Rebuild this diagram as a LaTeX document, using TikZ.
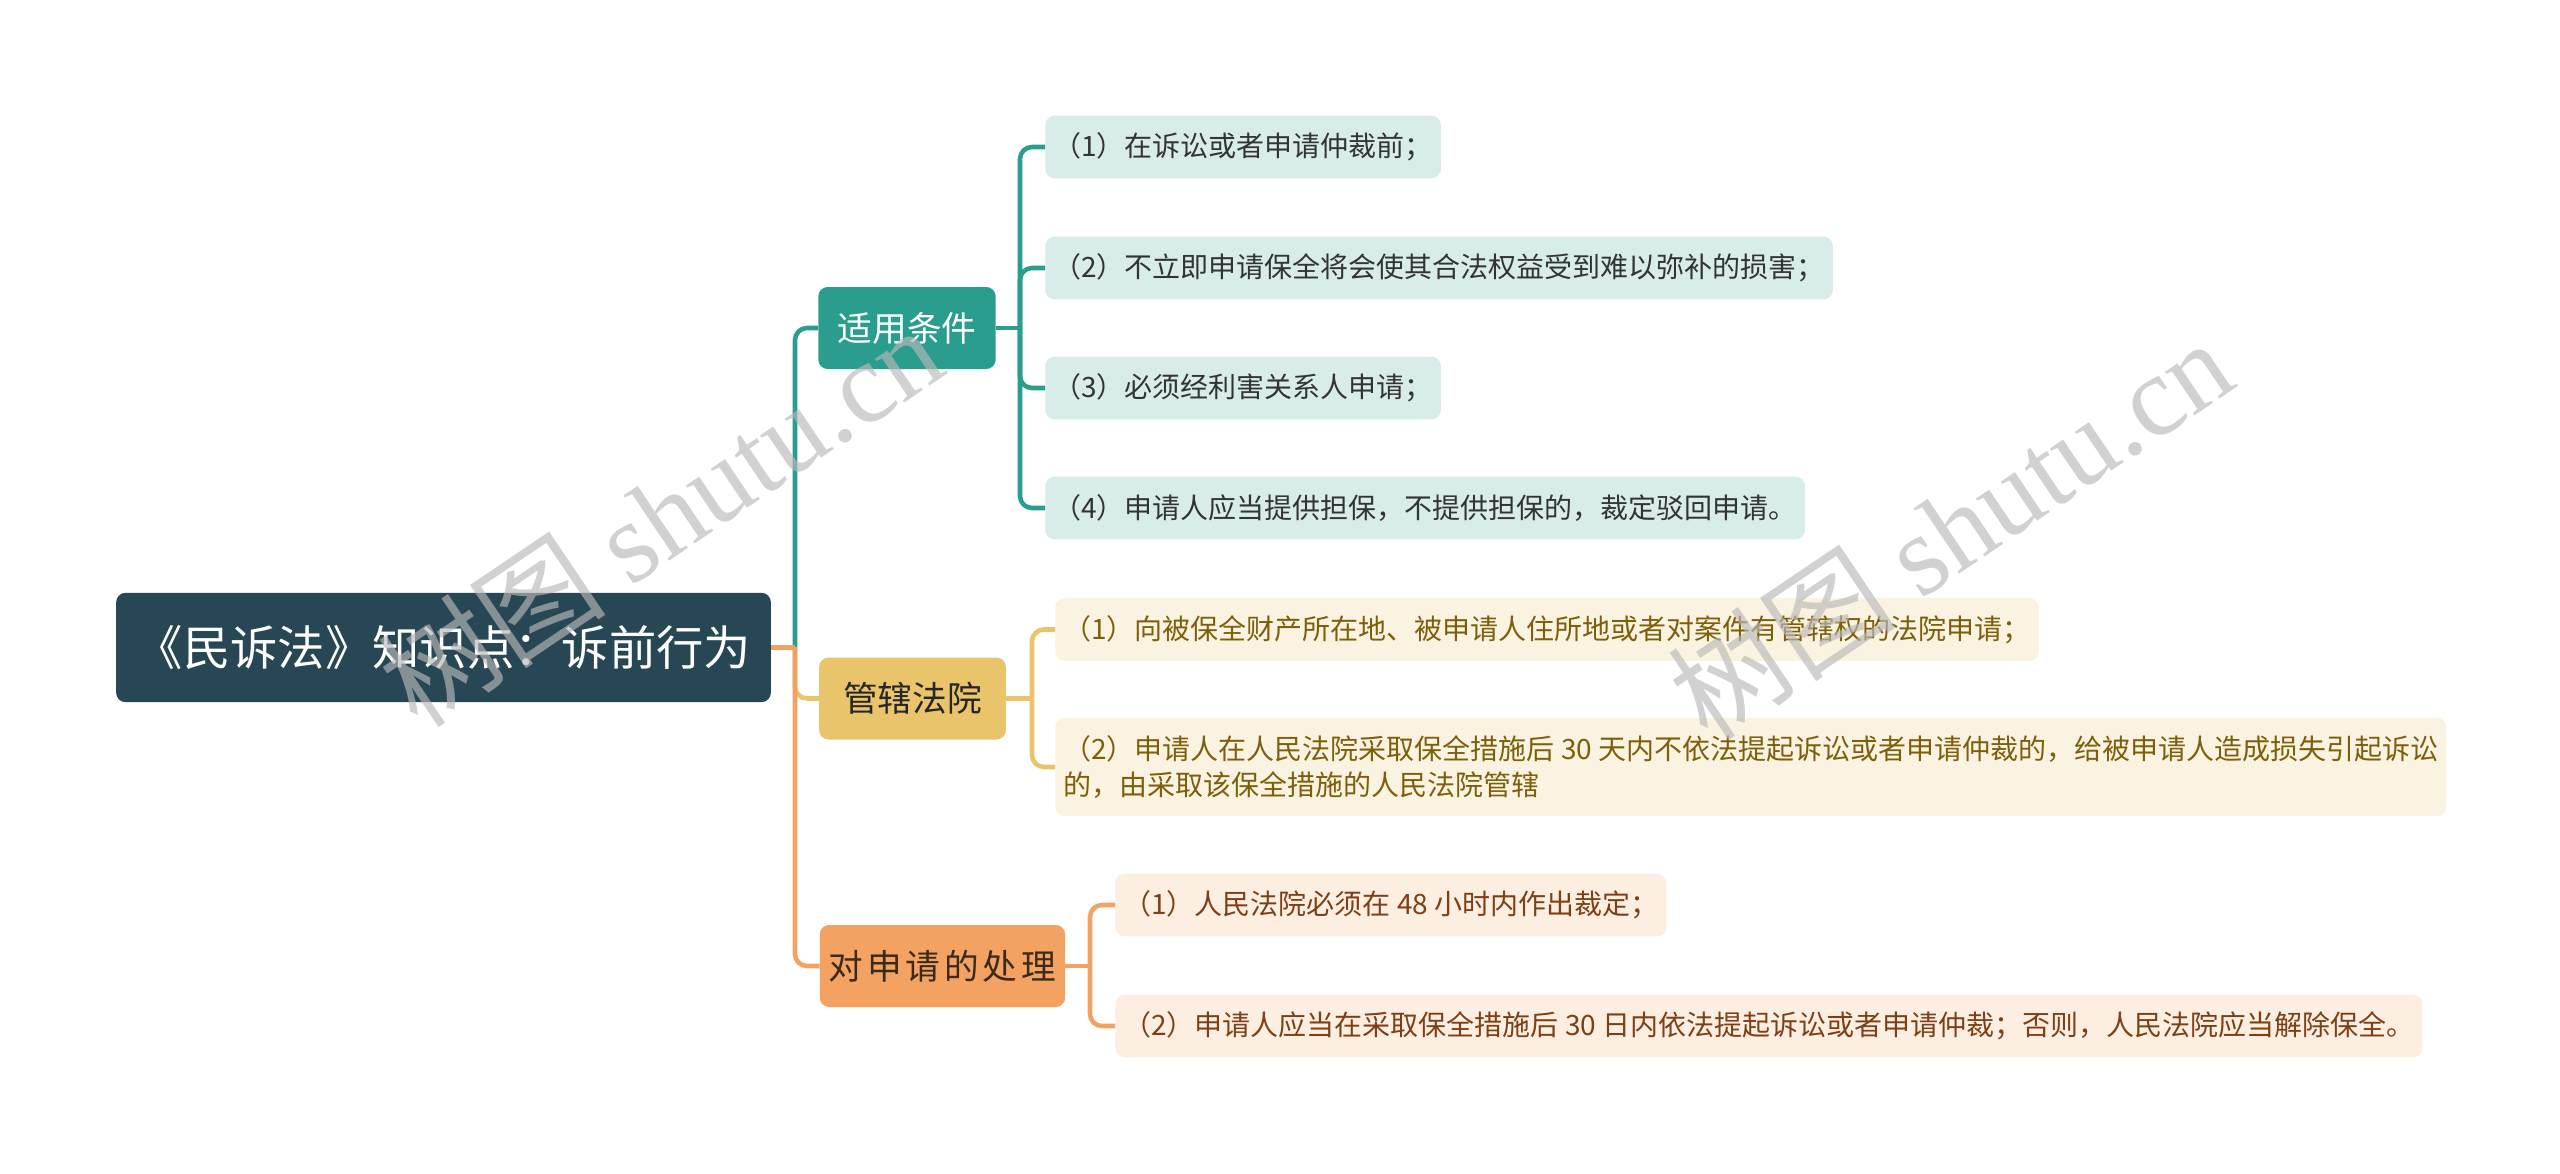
\documentclass[tikz,border=0pt]{standalone}
\usepackage{fontspec}
\setmainfont{Noto Sans CJK SC}
\newfontfamily\wmfont{Liberation Serif}
\usetikzlibrary{positioning,calc}

\definecolor{rootbg}{HTML}{274754}
\definecolor{tealc}{HTML}{2A9D8F}
\definecolor{yellowc}{HTML}{E9C46A}
\definecolor{orangec}{HTML}{F4A261}
\definecolor{tealleaf}{HTML}{D8EDEA}
\definecolor{yellowleaf}{HTML}{FBF3E1}
\definecolor{orangeleaf}{HTML}{FDEEE2}
\definecolor{yellowtext}{HTML}{7D5F0A}
\definecolor{orangetext}{HTML}{7E3F14}
\definecolor{darktext}{HTML}{3A2A1C}

\begin{document}
\begin{tikzpicture}[x=0.75pt, y=-0.75pt,
    rootbox/.style={rectangle, rounded corners=7pt, fill=rootbg, text=white, font=\fontsize{35.5}{42}\selectfont, minimum width=491pt, minimum height=82pt},
    topic/.style={rectangle, rounded corners=7pt, font=\fontsize{26}{31}\selectfont, minimum height=61.5pt},
    leaf/.style={rectangle, rounded corners=7pt, font=\fontsize{21}{27}\selectfont, minimum height=47pt, inner xsep=6pt, anchor=west, align=left},
    link/.style={line width=3.4pt, rounded corners=9pt},
    flat/.style={line width=3.4pt},
    wmark/.style={text=gray!55, opacity=0.65, font=\fontsize{86}{90}\selectfont, rotate=34},
]
    \useasboundingbox (0,0) rectangle (2560,1174);
    \fill[white] (0,0) rectangle (2560,1174);

    % root and main branches
    \node[rootbox] (root) at (443.5,647.5) {《民诉法》知识点：诉前行为};
    \node[topic, fill=tealc, text=white, minimum width=133pt] (cond) at (907,328) {适用条件};
    \node[topic, fill=yellowc, text=black!85, minimum width=140pt] (court) at (912.5,698.5) {管辖法院\hspace{6pt}};
    \node[topic, fill=orangec, text=darktext, minimum width=184pt] (proc) at (942.5,966) {\addfontfeature{LetterSpace=11}对申请的处理};

    % leaves
    \node[leaf, fill=tealleaf, text=black!80] (c1) at (1045,147) {（1）在诉讼或者申请仲裁前；};
    \node[leaf, fill=tealleaf, text=black!80] (c2) at (1045,268) {（2）不立即申请保全将会使其合法权益受到难以弥补的损害；};
    \node[leaf, fill=tealleaf, text=black!80] (c3) at (1045,388) {（3）必须经利害关系人申请；};
    \node[leaf, fill=tealleaf, text=black!80] (c4) at (1045,508) {（4）申请人应当提供担保，不提供担保的，裁定驳回申请。};

    \node[leaf, fill=yellowleaf, text=yellowtext] (y1) at (1055,629.5) {（1）向被保全财产所在地、被申请人住所地或者对案件有管辖权的法院申请；};
    \node[leaf, fill=yellowleaf, text=yellowtext, minimum height=73.5pt] (y2) at (1055,767) {（2）申请人在人民法院采取保全措施后 30 天内不依法提起诉讼或者申请仲裁的，给被申请人造成损失引起诉讼\\的，由采取该保全措施的人民法院管辖};

    \node[leaf, fill=orangeleaf, text=orangetext] (p1) at (1115,905) {（1）人民法院必须在 48 小时内作出裁定；};
    \node[leaf, fill=orangeleaf, text=orangetext] (p2) at (1115,1026) {（2）申请人应当在采取保全措施后 30 日内依法提起诉讼或者申请仲裁；否则，人民法院应当解除保全。};

    % junctions
    \coordinate (j0) at (795,647.5);
    \coordinate (jc) at (1020,328);
    \coordinate (jy) at (1032,698.5);
    \coordinate (jp) at (1090,966);

    % connectors
    \draw[link, tealc] (j0) |- (cond.west);
    \draw[link, yellowc] (j0) |- (court.west);
    \draw[link, orangec] (j0) |- (proc.west);
    \draw[flat, orangec] (root.east) -- (j0);

    \draw[flat, tealc] (cond.east) -- (jc);
    \foreach \n in {c1,c2,c3,c4}
        \draw[link, tealc] (jc) |- (\n.west);
    \draw[flat, yellowc] (court.east) -- (jy);
    \foreach \n in {y1,y2}
        \draw[link, yellowc] (jy) |- (\n.west);
    \draw[flat, orangec] (proc.east) -- (jp);
    \foreach \n in {p1,p2}
        \draw[link, orangec] (jp) |- (\n.west);

    % watermark
    \node[wmark] (wm1) at (660,515) {树图 {\wmfont shutu.cn}};
    \node[wmark] (wm2) at (1950,528) {树图 {\wmfont shutu.cn}};
\end{tikzpicture}
\end{document}
